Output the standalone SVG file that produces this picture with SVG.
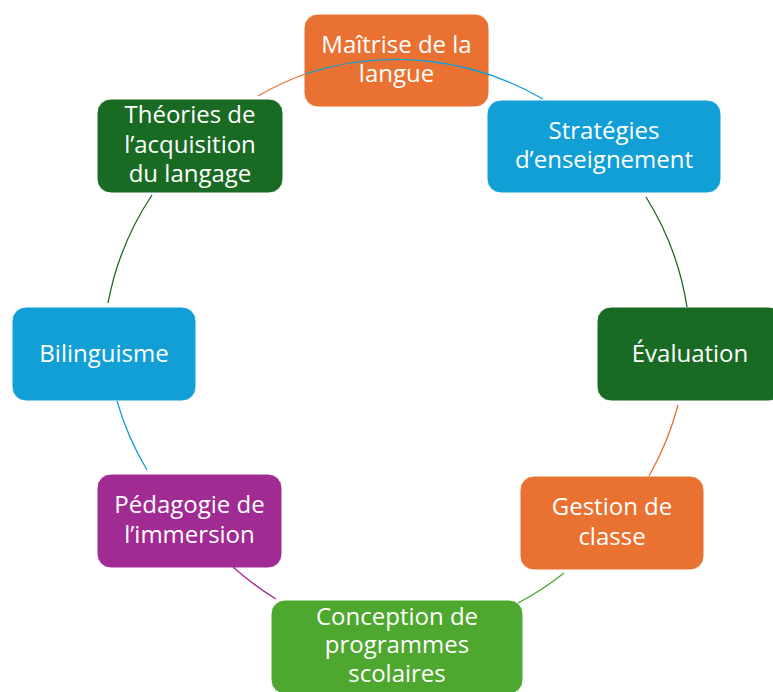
<svg xmlns="http://www.w3.org/2000/svg" width="773" height="692" viewBox="0 0 773 692">
<style>
.box{stroke:#ffffff;stroke-width:1}
.t{font-family:"Open Sans","Noto Sans",sans-serif;font-size:24px;fill:#ffffff;text-anchor:middle}
.arc{fill:none;stroke-width:1.3}
.orange{fill:#E97132}
.blue{fill:#129FD6}
.dgreen{fill:#196B24}
.lgreen{fill:#4EA72E}
.purple{fill:#A02B93}
</style>
<rect width="773" height="692" fill="#ffffff"/>
<g id="node-maitrise">
<rect class="box orange" x="304" y="14" width="185" height="93" rx="14"/>
<text class="t" x="396.5" y="53">Maîtrise de la</text>
<text class="t" x="396.5" y="82">langue</text>
</g>
<g id="node-strategies">
<rect class="box blue" x="487" y="100" width="234" height="93" rx="14"/>
<text class="t" x="604" y="139">Stratégies</text>
<text class="t" x="604" y="168">d’enseignement</text>
</g>
<g id="node-evaluation">
<rect class="box dgreen" x="597" y="307" width="186" height="94" rx="14"/>
<text class="t" x="690" y="362">Évaluation</text>
</g>
<g id="node-gestion">
<rect class="box orange" x="520" y="476" width="184" height="94" rx="14"/>
<text class="t" x="612" y="515">Gestion de</text>
<text class="t" x="612" y="545">classe</text>
</g>
<g id="node-conception">
<rect class="box lgreen" x="271" y="600" width="252" height="94" rx="14"/>
<text class="t" x="397" y="625">Conception de</text>
<text class="t" x="397" y="653">programmes</text>
<text class="t" x="397" y="682">scolaires</text>
</g>
<g id="node-pedagogie">
<rect class="box purple" x="97" y="474" width="185" height="94" rx="14"/>
<text class="t" x="189.5" y="513">Pédagogie de</text>
<text class="t" x="189.5" y="543">l’immersion</text>
</g>
<g id="node-bilinguisme">
<rect class="box blue" x="12" y="307" width="184" height="94" rx="14"/>
<text class="t" x="104" y="362">Bilinguisme</text>
</g>
<g id="node-theories">
<rect class="box dgreen" x="97" y="99" width="186" height="94" rx="14"/>
<text class="t" x="190" y="123">Théories de</text>
<text class="t" x="190" y="153">l’acquisition</text>
<text class="t" x="190" y="182">du langage</text>
</g>
<g id="connectors">
<path class="arc" stroke="#E97132" d="M258,96 A292,292 0 0 1 305,74"/>
<path class="arc" stroke="#129FD6" d="M305,74 A292,292 0 0 1 543,99"/>
<path class="arc" stroke="#196B24" d="M646,197 A292,292 0 0 1 687,307"/>
<path class="arc" stroke="#E97132" d="M678,405 A292,292 0 0 1 649,476"/>
<path class="arc" stroke="#4EA72E" d="M564,573 A292,292 0 0 1 518,603"/>
<path class="arc" stroke="#A02B93" d="M276,599 A292,292 0 0 1 233,567"/>
<path class="arc" stroke="#129FD6" d="M147,470 A292,292 0 0 1 117,401"/>
<path class="arc" stroke="#196B24" d="M108,303 A292,292 0 0 1 152,195"/>
</g>
</svg>
